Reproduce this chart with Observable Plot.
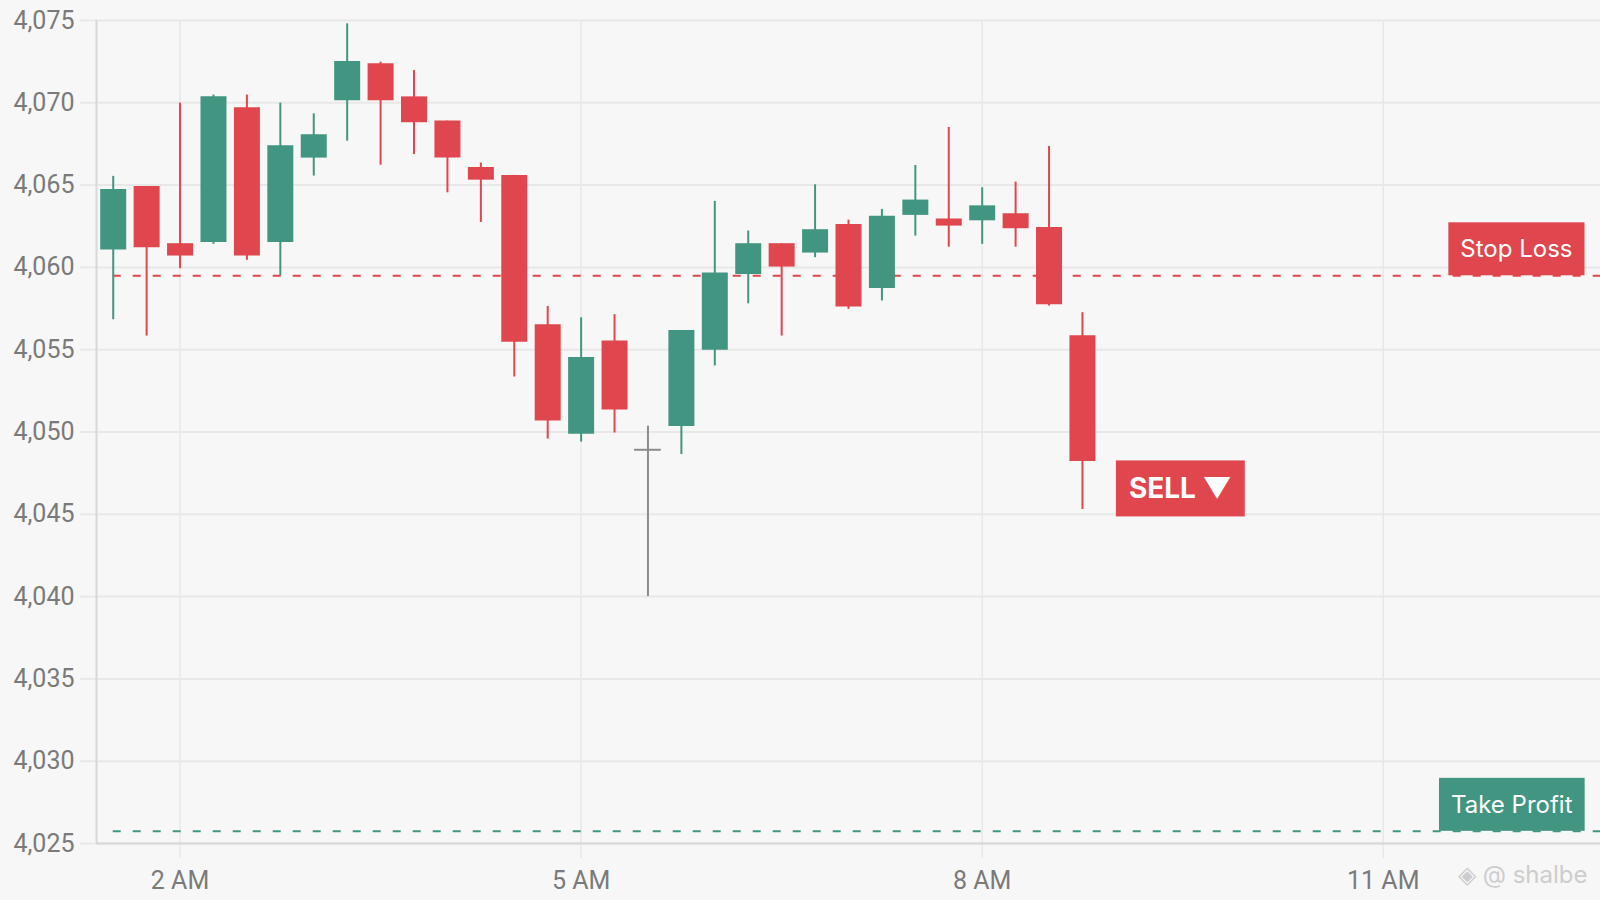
<!DOCTYPE html>
<html>
<head>
<meta charset="utf-8">
<script src="https://cdn.jsdelivr.net/npm/d3@7"></script>
<script src="https://cdn.jsdelivr.net/npm/@observablehq/plot@0.6"></script>
<style>
  html, body { margin: 0; padding: 0; background: #f7f7f7; }
  #chart { width: 1600px; height: 900px; overflow: hidden; }
</style>
</head>
<body>
<div id="chart"></div>
<script>
// ---- data (15-minute candles) ----
const times = ["01:30","01:45","02:00","02:15","02:30","02:45","03:00","03:15","03:30","03:45",
               "04:00","04:15","04:30","04:45","05:00","05:15","05:30","05:45","06:00","06:15",
               "06:30","06:45","07:00","07:15","07:30","07:45","08:00","08:15","08:30","08:45"];
const open  = [4061.05,4064.92,4061.44,4061.52,4069.70,4061.52,4066.64,4070.12,4072.37,4070.36,
               4068.89,4066.07,4065.59,4056.52,4049.86,4055.53,4048.92,4050.34,4054.96,4059.57,
               4061.44,4060.87,4062.61,4058.72,4063.16,4062.94,4062.83,4063.26,4062.43,4055.85];
const high  = [4065.53,4064.92,4069.98,4070.47,4070.47,4069.98,4069.33,4074.80,4072.47,4071.96,
               4068.89,4066.34,4065.59,4057.63,4056.94,4057.13,4050.35,4056.17,4064.01,4062.21,
               4061.44,4065.02,4062.87,4063.52,4066.19,4068.50,4064.84,4065.18,4067.35,4057.25];
const low   = [4056.82,4055.83,4059.92,4061.40,4060.43,4059.49,4065.55,4067.67,4066.21,4066.86,
               4064.53,4062.73,4053.34,4049.57,4049.39,4049.94,4040.00,4048.63,4054.01,4057.79,
               4055.83,4060.59,4057.45,4057.96,4061.90,4061.23,4061.40,4061.23,4057.65,4045.29];
const close = [4064.74,4061.19,4060.69,4070.36,4060.69,4067.39,4068.06,4072.51,4070.12,4068.79,
               4066.64,4065.30,4055.45,4050.67,4054.53,4051.34,4048.92,4056.17,4059.66,4061.44,
               4060.02,4062.29,4057.59,4063.10,4064.09,4062.51,4063.74,4062.35,4057.73,4048.21];

const levelNames  = ["Stop Loss", "Take Profit"];
const levelValues = [4059.5, 4025.75];
const signalText  = "SELL ▼";
const watermark   = "◈ @ shalbe";

const xTickLabels = ["02:00","05:00","08:00","11:00"];
const yTicks = [4025,4030,4035,4040,4045,4050,4055,4060,4065,4070,4075];

// ---- styling ----
const GREEN = "#429681", RED = "#e0464e", GRAY = "#8c8c8c";
const GRID = "#e8e8e8", AXIS = "#d8d8d8", TEXT = "#7a7a7a";

const parseT = d3.utcParse("%H:%M");
const parseTS = d3.utcParse("%H:%M:%S");
const candles = times.map((t, i) => ({
  t: parseT(t), open: open[i], high: high[i], low: low[i], close: close[i]
}));
const up = candles.filter(d => d.close > d.open);
const down = candles.filter(d => d.close < d.open);
const flat = candles.filter(d => d.close === d.open);
const step = 15 * 60 * 1000;
const half = 6 * 60 * 1000;
const xStart = parseTS("01:22:30"), xEnd = parseTS("12:37:30");
const last = candles[candles.length - 1];
const levels = levelNames.map((name, i) => ({name, value: levelValues[i], t: xEnd}));
const stopL = [levels[0]], takeP = [levels[1]];

const wick = (data, color) => Plot.ruleX(data, {x: "t", y1: "low", y2: "high", stroke: color, strokeWidth: 2});
const body = (data, color) => Plot.ruleX(data, {x: "t", y1: "open", y2: "close", stroke: color, strokeWidth: 26});

const chart = Plot.plot({
  width: 1600,
  height: 900,
  marginLeft: 96,
  marginRight: 0,
  marginTop: 20,
  marginBottom: 57,
  style: {background: "#f7f7f7", fontFamily: "Roboto, sans-serif", overflow: "visible"},
  x: {type: "utc", domain: [xStart, xEnd], label: null},
  y: {domain: [4025, 4075], label: null},
  marks: [
    Plot.gridY(yTicks, {stroke: GRID, strokeOpacity: 1, strokeWidth: 2}),
    Plot.gridX(xTickLabels.map(parseT), {stroke: GRID, strokeOpacity: 1, strokeWidth: 1.5}),
    Plot.axisY(yTicks, {tickSize: 16, tickPadding: 6, stroke: GRID, strokeWidth: 2, fill: TEXT,
                        fontSize: 25, tickFormat: d3.format(","), label: null}),
    Plot.axisX(xTickLabels.map(parseT), {tickSize: 15, tickPadding: 13, stroke: GRID, strokeWidth: 1.5,
                        fill: TEXT, fontSize: 25, tickFormat: d3.utcFormat("%-I %p"), label: null}),
    Plot.ruleX([xStart], {stroke: AXIS, strokeWidth: 2}),
    Plot.ruleY([4025], {stroke: AXIS, strokeWidth: 2}),
    Plot.ruleY(stopL, {y: "value", x1: candles[0].t, x2: xEnd, stroke: RED, strokeWidth: 2, strokeDasharray: "8,12"}),
    Plot.ruleY(takeP, {y: "value", x1: candles[0].t, x2: xEnd, stroke: GREEN, strokeWidth: 2, strokeDasharray: "8,12"}),
    wick(up, GREEN), wick(down, RED), wick(flat, GRAY),
    body(up, GREEN), body(down, RED),
    Plot.ruleY(flat, {y: "open", x1: d => new Date(+d.t - half), x2: d => new Date(+d.t + half), stroke: GRAY, strokeWidth: 2}),
    Plot.text(stopL, {x: "t", y: "value", text: "name", textAnchor: "end", dx: -28, dy: -26,
                      fill: "white", fontSize: 24, fontFamily: "Inter, sans-serif", lineAnchor: "middle"}),
    Plot.text(takeP, {x: "t", y: "value", text: "name", textAnchor: "end", dx: -28, dy: -26,
                      fill: "white", fontSize: 24, fontFamily: "Inter, sans-serif", lineAnchor: "middle"}),
    Plot.text([last], {x: d => new Date(+d.t + step), y: "close", text: () => signalText, textAnchor: "start",
                       dx: 13, dy: 28, fill: "white", fontSize: 28, fontWeight: "bold",
                       fontFamily: "Inter, sans-serif", lineAnchor: "middle"}),
    Plot.text([watermark], {text: d => d, frameAnchor: "bottom-right", textAnchor: "end", dx: -13, dy: 32,
                            fill: "#cdcdcd", fontSize: 24, fontFamily: "Inter, sans-serif", lineAnchor: "middle"})
  ]
});

document.getElementById("chart").appendChild(chart);

// colored boxes behind the tag labels
function boxBehind(label, fill, padX, h) {
  for (const tx of chart.querySelectorAll("text")) {
    if (tx.textContent !== label) continue;
    const b = tx.getBBox();
    const r = document.createElementNS("http://www.w3.org/2000/svg", "rect");
    r.setAttribute("x", b.x - padX);
    r.setAttribute("width", b.width + 2 * padX);
    r.setAttribute("y", b.y + b.height / 2 - h / 2);
    r.setAttribute("height", h);
    r.setAttribute("fill", fill);
    const tr = tx.getAttribute("transform");
    if (tr) r.setAttribute("transform", tr);
    tx.parentNode.insertBefore(r, tx);
  }
}
boxBehind(levelNames[0], RED, 12, 53);
boxBehind(levelNames[1], GREEN, 12, 53);
boxBehind(signalText, RED, 13, 56);
</script>
</body>
</html>
